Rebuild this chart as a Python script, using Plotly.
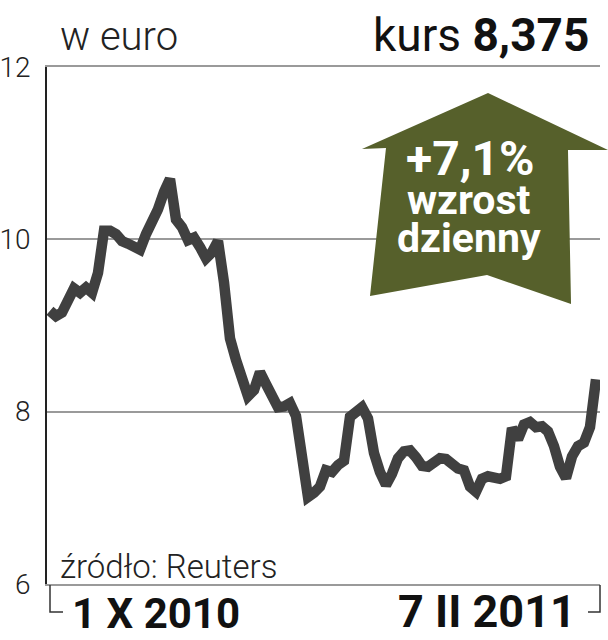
import plotly.graph_objects as go

# Daily closing price (EUR), 1 X 2010 .. 7 II 2011
prices = [
    9.17, 9.11, 9.15, 9.32, 9.43, 9.38, 9.44, 9.38, 9.61, 10.10,
    10.10, 10.06, 9.98, 9.95, 9.92, 9.88, 10.06, 10.19, 10.35, 10.55,
    10.70, 10.23, 10.14, 9.99, 10.02, 9.91, 9.78, 9.85, 9.98, 9.50,
    8.85, 8.60, 8.37, 8.18, 8.25, 8.46, 8.32, 8.16, 8.05, 8.06,
    8.10, 7.95, 7.42, 7.01, 7.06, 7.13, 7.32, 7.30, 7.38, 7.43,
    7.94, 8.01, 8.05, 7.92, 7.52, 7.30, 7.15, 7.28, 7.46, 7.54,
    7.55, 7.47, 7.37, 7.36, 7.41, 7.46, 7.45, 7.38, 7.34, 7.32,
    7.13, 7.07, 7.22, 7.25, 7.22, 7.22, 7.25, 7.81, 7.68, 7.85,
    7.88, 7.82, 7.83, 7.77, 7.60, 7.36, 7.23, 7.48, 7.60, 7.64,
    7.82, 8.375,
]
days = list(range(len(prices)))
y_ticks = [6, 8, 10, 12]
y_tick_text = ["6", "8", "10", "12"]
date_start = "1 X 2010"
date_end = "7 II 2011"
unit_label = "w euro"
last_price = "8,375"
change_label = "+7,1%"
change_text = ["wzrost", "dzienny"]
source = "źródło: Reuters"

W, H = 608, 640
L, R, T, B = 47, 8, 67, 56
pw, ph = W - L - R, H - T - B


def px(x):
    return (x - L) / pw


def py(y):
    return (H - B - y) / ph


fig = go.Figure()
fig.add_trace(go.Scatter(
    x=days, y=prices, mode="lines",
    line=dict(color="#404040", width=10.5),
    hoverinfo="skip", showlegend=False,
))

# arrow badge
pts = [(488, 93), (608, 150), (568, 150), (571, 304), (487, 275),
       (370, 296), (386, 148), (362, 149)]
path = "M " + " L ".join(f"{px(a):.4f},{py(b):.4f}" for a, b in pts) + " Z"
shapes = [dict(type="path", xref="paper", yref="paper", path=path,
               fillcolor="#56602b", line=dict(width=0), layer="above")]
# brackets under the axis
bracket = dict(color="#333333", width=1.5)
shapes.append(dict(type="path", xref="paper", yref="paper", line=bracket,
                   path=f"M {px(50)},{py(585)} L {px(50)},{py(612)} L {px(63)},{py(612)}"))
shapes.append(dict(type="path", xref="paper", yref="paper", line=bracket,
                   path=f"M {px(600)},{py(585)} L {px(600)},{py(612)} L {px(588)},{py(612)}"))

light = dict(family="Roboto", weight=300, color="#222222")
ann = []
ann.append(dict(x=px(58), y=py(62), xref="paper", yref="paper", xanchor="left", yanchor="bottom",
                text=unit_label, showarrow=False, font=dict(light, size=40)))
ann.append(dict(x=px(591), y=py(64), xref="paper", yref="paper", xanchor="right", yanchor="bottom",
                text=f"kurs <b>{last_price}</b>", showarrow=False,
                font=dict(family="Roboto", size=46, color="#111111")))
ann.append(dict(x=px(58), y=py(588), xref="paper", yref="paper", xanchor="left", yanchor="bottom",
                text=source, showarrow=False, font=dict(light, size=33)))
ann.append(dict(x=px(70), y=py(640), xref="paper", yref="paper", xanchor="left", yanchor="bottom",
                text=f"<b>{date_start}</b>", showarrow=False,
                font=dict(family="Roboto", size=42, color="#111111")))
ann.append(dict(x=px(578), y=py(640), xref="paper", yref="paper", xanchor="right", yanchor="bottom",
                text=f"<b>{date_end}</b>", showarrow=False,
                font=dict(family="Roboto", size=45, color="#111111")))
white = dict(family="Roboto", size=40, color="white")
ann.append(dict(x=px(470), y=py(158), xref="paper", yref="paper", xanchor="center", yanchor="middle",
                text=f"<b>{change_label}</b>", showarrow=False,
                font=dict(white, size=48)))
ann.append(dict(x=px(469), y=py(200), xref="paper", yref="paper", xanchor="center", yanchor="middle",
                text=f"<b>{change_text[0]}</b>", showarrow=False,
                font=dict(white, size=41)))
ann.append(dict(x=px(469), y=py(238), xref="paper", yref="paper", xanchor="center", yanchor="middle",
                text=f"<b>{change_text[1]}</b>", showarrow=False,
                font=dict(white, size=41)))

fig.update_layout(
    width=W, height=H, margin=dict(l=L, r=R, t=T, b=B, autoexpand=False),
    paper_bgcolor="white", plot_bgcolor="white",
    shapes=shapes, annotations=ann, showlegend=False,
    xaxis=dict(range=[-0.5, len(prices) - 1 + 0.67], showgrid=False, zeroline=False,
               showticklabels=False, ticks="", showline=True, mirror=True,
               linecolor="#9a9a9a", linewidth=1.5, automargin=False),
    yaxis=dict(range=[6, 12], tickvals=y_ticks, ticktext=y_tick_text,
               showgrid=True, gridcolor="#9a9a9a", gridwidth=1.5, zeroline=False,
               showline=True, linecolor="#222222", linewidth=1.5, ticks="",
               ticklabelstandoff=9, tickfont=dict(light, size=28), automargin=False),
)
fig.write_html("out.html", config={"displayModeBar": False},
               post_script="document.body.style.margin='0px';")
